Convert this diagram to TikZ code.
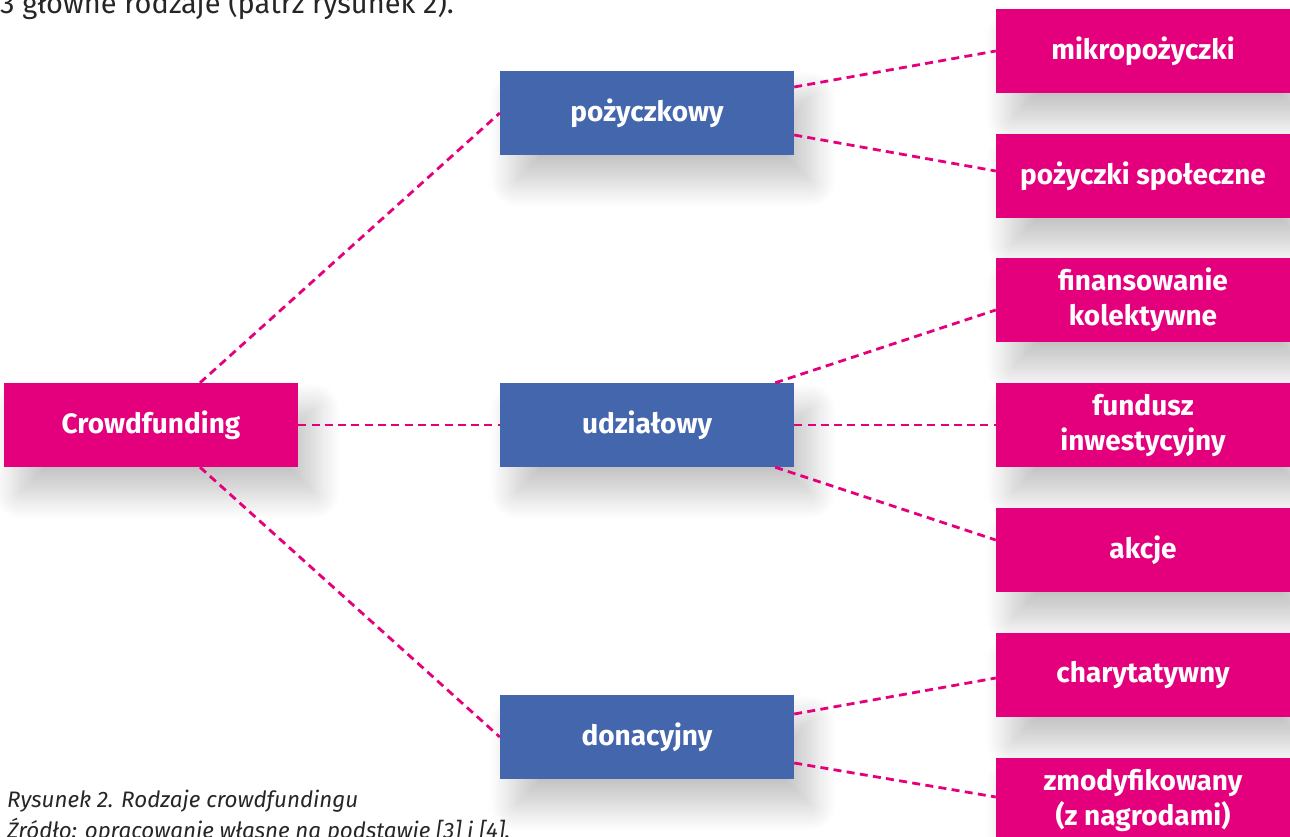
\documentclass[tikz,border=0pt]{standalone}
\usepackage{fontspec}
\setmainfont{Fira Sans}
\usetikzlibrary{shadows.blur}
\definecolor{mag}{HTML}{E4007D}
\definecolor{blu}{HTML}{4466AD}
\definecolor{txt}{HTML}{262626}
\tikzset{
  box/.style={minimum width=294pt, minimum height=84pt, inner sep=0pt, align=center,
    text=white, font=\fontsize{28}{35}\selectfont\bfseries,
    blur shadow={shadow xshift=16pt, shadow yshift=-26pt, shadow blur radius=26pt, shadow opacity=24, shadow blur steps=24}},
  pbox/.style={box, fill=mag},
  bbox/.style={box, fill=blu},
  link/.style={draw=mag, line width=2.8pt, dash pattern=on 8pt off 5.3pt}
}
\begin{document}
\begin{tikzpicture}[x=1pt,y=-1pt]
\useasboundingbox (0,0) rectangle (1290,836);
\clip (0,0) rectangle (1290,836);
\node[anchor=base west, text=txt, font=\fontsize{29}{34}\selectfont, inner sep=0pt] (top) at (0,13) {3 główne rodzaje (patrz rysunek 2).};

\node[pbox] (cf) at (151,425) {Crowdfunding};
\node[bbox] (poz) at (647,113) {pożyczkowy};
\node[bbox] (udz) at (647,425) {udziałowy};
\node[bbox] (don) at (647,737) {donacyjny};

\node[pbox] (mik) at (1143,51) {mikropożyczki};
\node[pbox] (spo) at (1143,176) {pożyczki społeczne};
\node[pbox] (fin) at (1143,300) {finansowanie\\kolektywne};
\node[pbox] (fun) at (1143,425) {fundusz\\inwestycyjny};
\node[pbox] (akc) at (1143,550) {akcje};
\node[pbox] (cha) at (1143,675) {charytatywny};
\node[pbox] (zmo) at (1143,800) {zmodyfikowany\\(z nagrodami)};

\node[anchor=base west, text=txt, font=\fontsize{22.4}{26}\selectfont\itshape, inner sep=0pt] (cap) at (7,807) {Rysunek 2. Rodzaje crowdfundingu};
\node[anchor=base west, text=txt, font=\fontsize{22.4}{26}\selectfont\itshape, inner sep=0pt] (src) at (7,838) {Źródło: opracowanie własne na podstawie [3] i [4].};

\draw[link] ([xshift=49pt]cf.north) -- (poz.west);
\draw[link] (cf.east) -- (udz.west);
\draw[link] ([xshift=49pt]cf.south) -- (don.west);

\draw[link] ([yshift=26pt]poz.east) -- (mik.west);
\draw[link] ([yshift=-22pt]poz.east) -- ([yshift=5pt]spo.west);
\draw[link] ([xshift=-19pt]udz.north east) -- ([yshift=-10pt]fin.west);
\draw[link] (udz.east) -- (fun.west);
\draw[link] ([xshift=-19pt]udz.south east) -- ([yshift=10pt]akc.west);
\draw[link] ([yshift=23pt]don.east) -- ([yshift=-3pt]cha.west);
\draw[link] ([yshift=-26pt]don.east) -- ([yshift=3pt]zmo.west);
\end{tikzpicture}
\end{document}
